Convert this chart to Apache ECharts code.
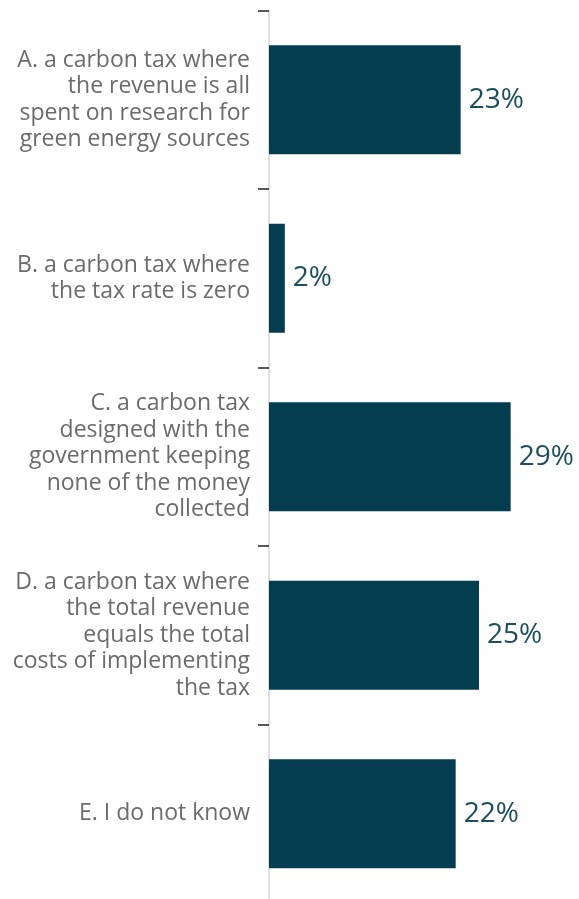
<!DOCTYPE html>
<html>
<head>
<meta charset="utf-8">
<script src="https://cdn.jsdelivr.net/npm/echarts@6/dist/echarts.min.js"></script>
<style>
html,body{margin:0;padding:0;background:#fff;}
#c{width:579px;height:899px;}
</style>
</head>
<body>
<div id="c"></div>
<script>
const categories = [
  "A. a carbon tax where\nthe revenue is all\nspent on research for\ngreen energy sources",
  "B. a carbon tax where\nthe tax rate is zero",
  "C. a carbon tax\ndesigned with the\ngovernment keeping\nnone of the money\ncollected",
  "D. a carbon tax where\nthe total revenue\nequals the total\ncosts of implementing\nthe tax",
  "E. I do not know"
];
const values = [23, 1.9, 29, 25.2, 22.4];

const chart = echarts.init(document.getElementById('c'));
chart.setOption({
  animation: false,
  grid: { left: 269, right: 60, top: 10.5, bottom: -4, containLabel: false, outerBoundsMode: 'none' },
  xAxis: { type: 'value', min: 0, max: 30, show: false },
  yAxis: {
    type: 'category',
    inverse: true,
    data: categories,
    axisLine: { show: true, lineStyle: { color: '#d4d4d4', width: 1.5 } },
    axisTick: { show: true, length: 11, lineStyle: { color: '#222', width: 1.5 } },
    axisLabel: {
      margin: 19,
      color: '#6b6b6b',
      fontFamily: 'Open Sans',
      fontSize: 23,
      lineHeight: 26.5,
      align: 'right'
    },
    splitLine: { show: false }
  },
  series: [{
    type: 'bar',
    data: values,
    barWidth: 109,
    itemStyle: { color: '#033d4f' },
    label: {
      show: true,
      position: 'right',
      distance: 8,
      color: '#1d4e60',
      fontFamily: 'Open Sans',
      fontSize: 28,
      formatter: p => Math.round(p.value) + '%'
    }
  }]
});
</script>
</body>
</html>
